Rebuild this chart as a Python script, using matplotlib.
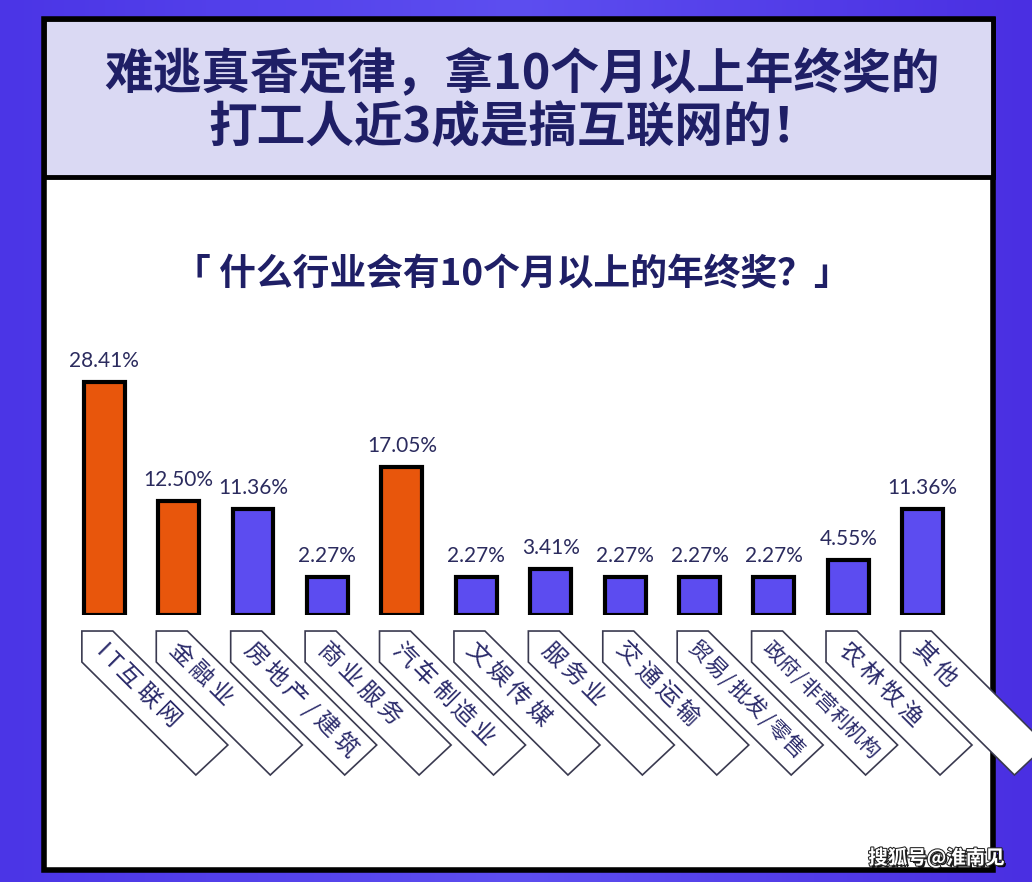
import numpy as np
import matplotlib
matplotlib.use("Agg")
import matplotlib.pyplot as plt
import matplotlib.patheffects as pe
from matplotlib.patches import Rectangle, Polygon
from matplotlib.transforms import ScaledTranslation

plt.rcParams["font.family"] = ["Noto Sans CJK SC", "DejaVu Sans"]

title_lines = ["难逃真香定律，拿10个月以上年终奖的", "打工人近3成是搞互联网的！"]
subtitle = "「 什么行业会有10个月以上的年终奖？」"
categories = ["IT互联网", "金融业", "房地产/建筑", "商业服务", "汽车制造业", "文娱传媒",
              "服务业", "交通运输", "贸易/批发/零售", "政府/非营利机构", "农林牧渔", "其他"]
values = [28.41, 12.50, 11.36, 2.27, 17.05, 2.27, 3.41, 2.27, 2.27, 2.27, 4.55, 11.36]
highlighted = ["IT互联网", "金融业", "汽车制造业"]
watermark = "搜狐号@淮南见"

ORANGE = "#e8560c"
PURPLE = "#5c4cf0"
NAVY = "#1f1f66"
BASE = -2.8

fig = plt.figure(figsize=(10.32, 8.82), dpi=100)
fig.patch.set_facecolor("#5645ec")

# background layer in pixel coords
bg = fig.add_axes([0, 0, 1, 1])
bg.set_xlim(0, 1032)
bg.set_ylim(882, 0)
bg.axis("off")
grad = np.linspace(0, 1, 256).reshape(1, -1)
bg.imshow(grad, extent=(0, 1032, 882, 0), aspect="auto",
          cmap=matplotlib.colors.LinearSegmentedColormap.from_list("g", ["#4b35e6", "#5d4ef0", "#4a2fe2"]))
bg.add_patch(Rectangle((44, 19), 949, 851, facecolor="white", edgecolor="black", lw=4, zorder=2))
bg.add_patch(Rectangle((44, 19), 949, 158, facecolor="#dad9f3", edgecolor="black", lw=3.5, zorder=3))
bg.text(522, 75, title_lines[0], ha="center", va="center", fontsize=35,
        fontweight="bold", color=NAVY, zorder=4)
bg.text(515, 128, title_lines[1], ha="center", va="center", fontsize=35,
        fontweight="bold", color=NAVY, zorder=4)
bg.text(512, 275, subtitle, ha="center", va="center", fontsize=26.5,
        fontweight="bold", color=NAVY, zorder=4)
bg.text(1005, 858, watermark, ha="right", va="center", fontsize=14, fontweight="bold",
        color="white", zorder=5,
        path_effects=[pe.withSimplePatchShadow(offset=(1.5, -1.5), shadow_rgbFace="black", alpha=0.9),
                      pe.withStroke(linewidth=1.5, foreground="#222222")])

# chart
ax = fig.add_axes([0.0649, 0.3027, 0.8653, 0.3197])
ax.set_xlim(-0.5, len(categories) - 0.5)
ax.set_ylim(BASE, 35)
ax.axis("off")
ax.patch.set_alpha(0)

x = np.arange(len(categories))
colors = [ORANGE if c in highlighted else PURPLE for c in categories]
heights = np.array(values) - BASE
ax.bar(x, heights, bottom=BASE, width=0.55, color=colors, edgecolor="black", linewidth=3, zorder=3)

for xi, v in zip(x, values):
    ax.annotate(f"{v:.2f}%", xy=(xi, v), xytext=(0, 8), textcoords="offset points",
                ha="center", va="bottom", fontsize=15, color="#2b2b5e", family=["Lato", "DejaVu Sans"])

# rotated label tags below the bars (shape in inches, text spaced char by char)
tag_shape = np.array([[0, -0.16], [0.31, -0.16], [1.46, -1.30], [1.14, -1.60], [0, -0.47]])
d = np.array([1, -1]) / np.sqrt(2)
start = np.array([14, -30])  # px from the tag anchor
for xi, cat in zip(x, categories):
    tr = fig.dpi_scale_trans + ScaledTranslation(xi - 0.3, BASE, ax.transData)
    ax.add_patch(Polygon(tag_shape, closed=True, transform=tr, facecolor="white",
                         edgecolor="#3a3a50", lw=1.2, clip_on=False, zorder=5))
    units = [0.55 if ord(ch) < 128 else 1.0 for ch in cat]
    step = min(28, 155 / sum(units))
    fs = min(17, step * 0.72)
    pos = 0.0
    for ch, u in zip(cat, units):
        p = (start + d * (pos + u * step / 2)) * 0.72
        ax.annotate(ch, xy=(xi - 0.3, BASE), xytext=tuple(p), textcoords="offset points",
                    rotation=-45, rotation_mode="anchor", ha="center", va="center",
                    fontsize=fs, color="#2a2a6a", zorder=6, annotation_clip=False)
        pos += u * step

fig.savefig("out.png", dpi=100)
